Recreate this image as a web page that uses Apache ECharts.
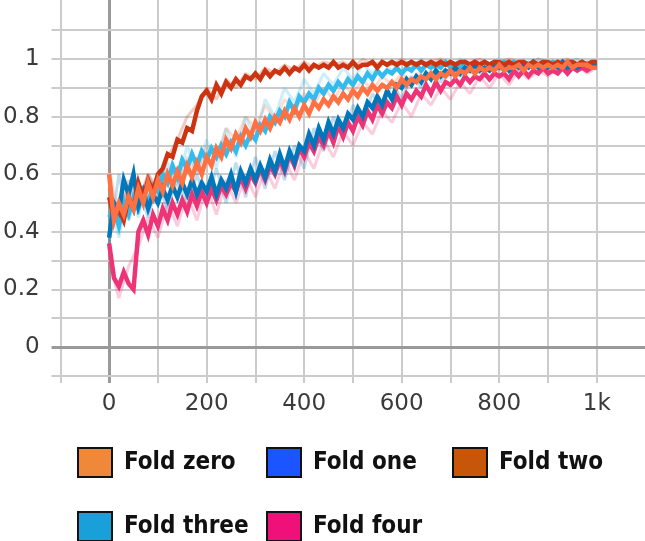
<!DOCTYPE html>
<html><head><meta charset="utf-8">
<script src="https://cdn.jsdelivr.net/npm/echarts@6/dist/echarts.min.js"></script>
<style>html,body{margin:0;padding:0;background:#fff}#c{width:645px;height:541px}</style>
</head><body><div id="c"></div>
<script>
const seriesNames = ['Fold zero', 'Fold one', 'Fold two', 'Fold three', 'Fold four'];
const lineColors = ['#ff7043', '#0077bb', '#cc3311', '#33bbee', '#ee3377'];
const legendColors = ['#f0883a', '#1a55ff', '#c8560a', '#1aa0d8', '#f0107a'];
const xTickValues = [0, 200, 400, 600, 800, 1000];
const yTickValues = [0, 0.2, 0.4, 0.6, 0.8, 1];
const xGridValues = [-100, 0, 100, 200, 300, 400, 500, 600, 700, 800, 900, 1000];
const yGridValues = [-0.1, 0, 0.1, 0.2, 0.3, 0.4, 0.5, 0.6, 0.7, 0.8, 0.9, 1, 1.1];
const smoothStep = 10;
const rawStep = 20;

// smoothed curves, one value every 10 steps (0..1000)
const foldZero = [
0.60,0.44,0.50,0.46,0.52,0.48,0.55,0.50,0.57,0.52,
0.58,0.54,0.60,0.56,0.61,0.57,0.63,0.59,0.64,0.60,
0.66,0.63,0.69,0.66,0.72,0.69,0.74,0.71,0.76,0.73,
0.78,0.75,0.79,0.76,0.80,0.78,0.82,0.79,0.83,0.80,
0.84,0.81,0.85,0.83,0.86,0.84,0.87,0.85,0.88,0.86,
0.89,0.87,0.90,0.88,0.91,0.89,0.91,0.90,0.92,0.90,
0.93,0.91,0.93,0.92,0.94,0.93,0.95,0.93,0.95,0.94,
0.96,0.94,0.96,0.95,0.97,0.95,0.97,0.96,0.97,0.96,
0.98,0.96,0.97,0.97,0.98,0.96,0.98,0.97,0.98,0.97,
0.98,0.97,0.98,0.97,0.99,0.97,0.98,0.98,0.98,0.97,
0.97];
const foldOne = [
0.38,0.50,0.47,0.58,0.53,0.60,0.49,0.54,0.48,0.53,
0.50,0.55,0.51,0.56,0.52,0.57,0.53,0.58,0.53,0.57,
0.54,0.59,0.53,0.58,0.55,0.60,0.54,0.61,0.57,0.62,
0.58,0.63,0.59,0.65,0.61,0.67,0.62,0.68,0.64,0.70,
0.68,0.74,0.70,0.76,0.72,0.78,0.74,0.79,0.76,0.81,
0.79,0.83,0.80,0.85,0.83,0.87,0.84,0.89,0.86,0.91,
0.90,0.93,0.91,0.94,0.92,0.95,0.93,0.96,0.94,0.96,
0.95,0.97,0.95,0.97,0.96,0.98,0.96,0.97,0.96,0.98,
0.97,0.98,0.96,0.98,0.97,0.98,0.97,0.99,0.97,0.98,
0.97,0.98,0.97,0.99,0.97,0.98,0.97,0.98,0.98,0.98,
0.98];
const foldTwo = [
0.52,0.45,0.48,0.44,0.52,0.48,0.57,0.52,0.58,0.54,
0.60,0.62,0.67,0.66,0.72,0.71,0.76,0.75,0.82,0.87,
0.89,0.86,0.91,0.88,0.92,0.90,0.93,0.91,0.94,0.93,
0.95,0.93,0.96,0.94,0.96,0.95,0.97,0.95,0.97,0.96,
0.98,0.96,0.98,0.97,0.98,0.97,0.99,0.97,0.98,0.97,
0.99,0.97,0.98,0.98,0.99,0.97,0.99,0.98,0.99,0.98,
0.99,0.98,0.99,0.98,0.99,0.98,0.99,0.98,0.99,0.98,
0.99,0.98,0.99,0.99,0.98,0.99,0.98,0.99,0.98,0.99,
0.99,0.98,0.99,0.98,0.99,0.99,0.98,0.99,0.98,0.99,
0.99,0.98,0.99,0.98,0.99,0.99,0.98,0.99,0.98,0.99,
0.99];
const foldThree = [
0.45,0.48,0.42,0.50,0.46,0.52,0.48,0.54,0.50,0.56,
0.54,0.60,0.57,0.63,0.59,0.65,0.62,0.67,0.63,0.68,
0.65,0.69,0.66,0.70,0.67,0.71,0.68,0.73,0.70,0.74,
0.72,0.77,0.75,0.80,0.78,0.82,0.80,0.85,0.82,0.87,
0.85,0.88,0.86,0.90,0.88,0.91,0.89,0.92,0.90,0.93,
0.91,0.94,0.92,0.95,0.93,0.96,0.94,0.96,0.95,0.97,
0.95,0.97,0.96,0.98,0.96,0.98,0.97,0.98,0.97,0.99,
0.97,0.98,0.97,0.99,0.98,0.99,0.98,0.99,0.98,0.99,
0.98,0.99,0.98,0.99,0.98,0.99,0.98,0.99,0.98,0.99,
0.98,0.99,0.98,0.99,0.98,0.99,0.98,0.99,0.98,0.99,
0.99];
const foldFour = [
0.36,0.24,0.21,0.26,0.22,0.20,0.40,0.44,0.39,0.46,
0.42,0.48,0.44,0.50,0.46,0.51,0.47,0.53,0.49,0.54,
0.50,0.55,0.51,0.56,0.53,0.57,0.54,0.59,0.55,0.60,
0.57,0.62,0.58,0.63,0.60,0.65,0.61,0.67,0.63,0.69,
0.66,0.71,0.68,0.73,0.70,0.75,0.71,0.77,0.73,0.78,
0.75,0.80,0.77,0.82,0.79,0.84,0.81,0.85,0.83,0.87,
0.84,0.88,0.86,0.89,0.87,0.91,0.88,0.92,0.89,0.92,
0.91,0.93,0.91,0.94,0.92,0.94,0.93,0.95,0.93,0.95,
0.94,0.95,0.93,0.96,0.94,0.96,0.94,0.96,0.95,0.97,
0.95,0.96,0.95,0.97,0.95,0.97,0.96,0.97,0.96,0.97,
0.97];

// raw (unsmoothed) curves, one value every 20 steps
const rawZero = [
0.62,0.44,0.56,0.48,0.60,0.52,0.62,0.55,0.66,0.60,
0.70,0.66,0.76,0.72,0.80,0.76,0.84,0.79,0.86,0.82,
0.88,0.84,0.90,0.86,0.91,0.88,0.93,0.89,0.94,0.91,
0.95,0.92,0.96,0.94,0.97,0.94,0.98,0.95,0.98,0.96,
0.99,0.96,0.99,0.97,0.99,0.97,0.99,0.97,1.00,0.97,
0.98];
const rawOne = [
0.36,0.60,0.44,0.55,0.45,0.58,0.47,0.60,0.48,0.60,
0.50,0.62,0.50,0.64,0.52,0.66,0.55,0.68,0.58,0.70,
0.62,0.76,0.68,0.80,0.72,0.84,0.78,0.88,0.82,0.92,
0.86,0.94,0.90,0.96,0.92,0.97,0.94,0.98,0.95,0.98,
0.96,0.99,0.96,0.99,0.97,0.99,0.97,0.99,0.97,0.99,
0.98];
const rawTwo = [
0.55,0.42,0.58,0.50,0.60,0.55,0.66,0.72,0.80,0.84,
0.90,0.86,0.93,0.90,0.95,0.93,0.97,0.95,0.98,0.96,
0.99,0.97,0.99,0.98,0.99,0.97,1.00,0.98,0.99,0.98,
1.00,0.98,0.99,0.99,1.00,0.98,0.99,0.99,1.00,0.98,
0.99,1.00,0.99,0.98,1.00,0.99,0.99,1.00,0.98,0.99,
0.99];
const rawThree = [
0.50,0.38,0.55,0.45,0.60,0.50,0.64,0.56,0.70,0.60,
0.72,0.62,0.76,0.66,0.80,0.72,0.86,0.80,0.90,0.85,
0.93,0.88,0.95,0.91,0.97,0.93,0.98,0.95,0.99,0.96,
0.99,0.97,1.00,0.97,0.99,0.98,1.00,0.98,0.99,0.98,
1.00,0.98,0.99,0.99,1.00,0.98,0.99,0.99,1.00,0.98,
0.99];
const rawFour = [
0.30,0.17,0.28,0.35,0.45,0.38,0.50,0.42,0.53,0.44,
0.56,0.46,0.58,0.50,0.60,0.52,0.62,0.55,0.65,0.58,
0.68,0.62,0.72,0.66,0.75,0.70,0.78,0.74,0.82,0.78,
0.85,0.80,0.88,0.84,0.90,0.86,0.92,0.88,0.94,0.90,
0.95,0.91,0.96,0.93,0.96,0.94,0.97,0.95,0.98,0.95,
0.97];

const smoothData = [foldZero, foldOne, foldTwo, foldThree, foldFour];
const rawData = [rawZero, rawOne, rawTwo, rawThree, rawFour];
const zOrder = [7, 5, 6, 4, 3];

function pairs(arr, step) { return arr.map((v, i) => [i * step, v]); }

const series = [];
rawData.forEach((arr, i) => {
  series.push({
    name: seriesNames[i] + ' raw', type: 'line', data: pairs(arr, rawStep),
    symbol: 'none', silent: true, z: 2,
    lineStyle: { color: lineColors[i], width: 3, opacity: 0.25 },
    itemStyle: { color: lineColors[i] }
  });
});
smoothData.forEach((arr, i) => {
  series.push({
    name: seriesNames[i], type: 'line', data: pairs(arr, smoothStep),
    symbol: 'none', silent: true, z: zOrder[i],
    lineStyle: { color: lineColors[i], width: 4.5, join: 'miter' },
    itemStyle: { color: legendColors[i] }
  });
});
// grid lines
series.push({
  name: 'grid', type: 'line', data: [], silent: true, z: 1,
  markLine: {
    silent: true, symbol: 'none', animation: false, z: 1,
    label: { show: false },
    lineStyle: { color: '#cbcbcb', width: 2, type: 'solid' },
    data: xGridValues.map(v => ({ xAxis: v, lineStyle: v === 0 ? { color: '#9a9a9a', width: 3, type: 'solid' } : undefined }))
      .concat(yGridValues.map(v => ({ yAxis: v, lineStyle: v === 0 ? { color: '#9a9a9a', width: 3, type: 'solid' } : undefined })))
  }
});

const legendPos = [[77, 447], [266, 447], [452, 447], [77, 511], [266, 511]];
const legends = seriesNames.map((n, i) => ({
  left: legendPos[i][0], top: legendPos[i][1], padding: 0,
  selectedMode: false, icon: 'rect', itemWidth: 34, itemHeight: 29,
  itemStyle: { borderColor: '#111', borderWidth: 2 },
  textStyle: { fontFamily: "'DejaVu Sans Condensed', 'DejaVu Sans', sans-serif", fontWeight: 'bold', fontSize: 24, color: '#111', padding: [0, 0, 0, 7] },
  data: [{ name: n, itemStyle: { color: legendColors[i] } }]
}));

const chart = echarts.init(document.getElementById('c'), null, { renderer: 'canvas' });
chart.setOption({
  animation: false,
  backgroundColor: '#fff',
  grid: { left: 50, right: 0, top: 0, bottom: 158, containLabel: false },
  legend: legends,
  xAxis: {
    type: 'value', min: -118, max: 1099,
    axisLine: { show: false }, axisTick: { show: false }, splitLine: { show: false },
    axisLabel: {
      customValues: xTickValues, margin: 10,
      fontFamily: 'DejaVu Sans', fontSize: 23, color: '#3a3a3a',
      formatter: v => v >= 1000 ? (v / 1000) + 'k' : String(v)
    }
  },
  yAxis: {
    type: 'value', min: -0.125, max: 1.205,
    axisLine: { show: false }, axisTick: { show: false }, splitLine: { show: false },
    axisLabel: {
      customValues: yTickValues, margin: 12,
      fontFamily: 'DejaVu Sans', fontSize: 23, color: '#3a3a3a',
      formatter: v => String(Math.round(v * 10) / 10)
    }
  },
  series: series
});
</script></body></html>
